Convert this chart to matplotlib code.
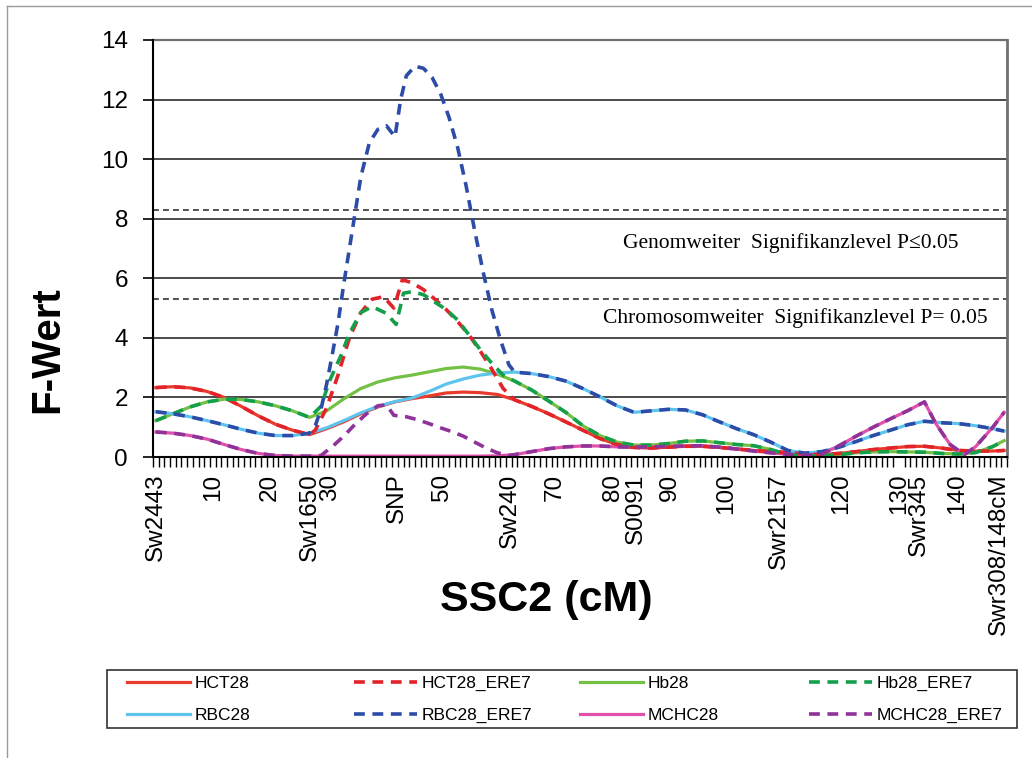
import matplotlib.pyplot as plt
from matplotlib.lines import Line2D
from matplotlib.patches import Rectangle

plt.rcParams['font.family'] = ['Liberation Sans', 'DejaVu Sans']

# Grundraster in cM
cm = [0, 3, 6, 9, 12, 15, 18, 21, 24, 27, 30, 33, 36, 39, 42, 45, 48, 51, 54, 57,
      60, 63, 66, 69, 72, 75, 78, 81, 84, 87, 90, 93, 96, 99, 102, 105, 108, 111,
      114, 117, 120, 123, 126, 129, 132, 135, 138, 141, 144, 147, 149]

hct28 = [2.33, 2.36, 2.32, 2.2, 2.0, 1.7, 1.38, 1.1, 0.9, 0.75,
         0.95, 1.18, 1.45, 1.68, 1.85, 1.96, 2.05, 2.15, 2.18, 2.16,
         2.1, 1.92, 1.7, 1.45, 1.18, 0.9, 0.62, 0.42, 0.32, 0.3,
         0.33, 0.36, 0.36, 0.32, 0.27, 0.22, 0.18, 0.15, 0.1, 0.08,
         0.12, 0.18, 0.25, 0.3, 0.35, 0.36, 0.3, 0.22, 0.2, 0.2, 0.22]

hb28 = [1.22, 1.45, 1.68, 1.85, 1.94, 1.93, 1.85, 1.72, 1.55, 1.33,
        1.55, 1.95, 2.3, 2.52, 2.66, 2.75, 2.86, 2.97, 3.02, 2.95,
        2.78, 2.55, 2.25, 1.88, 1.5, 1.05, 0.72, 0.5, 0.4, 0.4,
        0.45, 0.53, 0.54, 0.48, 0.42, 0.38, 0.25, 0.08, 0.03, 0.04,
        0.08, 0.14, 0.17, 0.18, 0.17, 0.16, 0.12, 0.1, 0.15, 0.35, 0.55]

rbc28 = [1.52, 1.45, 1.35, 1.22, 1.08, 0.93, 0.8, 0.72, 0.72, 0.8,
         0.98, 1.22, 1.48, 1.7, 1.86, 1.98, 2.2, 2.45, 2.62, 2.75,
         2.82, 2.85, 2.8, 2.7, 2.55, 2.3, 2.02, 1.72, 1.5, 1.55,
         1.6, 1.58, 1.42, 1.18, 0.95, 0.75, 0.5, 0.22, 0.13, 0.18,
         0.33, 0.52, 0.72, 0.9, 1.08, 1.2, 1.15, 1.12, 1.05, 0.95, 0.87]

# MCHC hat am Ende einen scharfen Knick -> eigenes Raster
cm_mchc = [0, 3, 6, 9, 12, 15, 18, 21, 24, 27, 30, 33, 36, 39, 42, 45, 48, 51, 54, 57,
           60, 63, 66, 69, 72, 75, 78, 81, 84, 87, 90, 93, 96, 99, 102, 105, 108, 111,
           114, 117, 120, 123, 126, 129, 132, 135, 137, 139.5, 142, 144, 147, 149]
mchc28 = [0.84, 0.8, 0.72, 0.6, 0.42, 0.25, 0.12, 0.05, 0.03, 0.03,
          0.03, 0.03, 0.03, 0.03, 0.03, 0.03, 0.03, 0.03, 0.03, 0.03,
          0.04, 0.08, 0.18, 0.28, 0.34, 0.37, 0.37, 0.34, 0.33, 0.34,
          0.36, 0.37, 0.38, 0.33, 0.27, 0.2, 0.14, 0.09, 0.06, 0.1,
          0.38, 0.7, 1.0, 1.28, 1.55, 1.85, 1.12, 0.42, 0.08, 0.35, 1.0, 1.5]

# ERE7-Kurven: nur im Bereich Sw1650 - Sw240 abweichend
hct_mid_cm = [28, 30, 32, 34, 36, 38, 40, 41.8, 43.3, 45, 47, 49, 51, 53, 55, 57, 59, 61, 63]
hct_mid = [0.9, 1.65, 2.75, 4.0, 4.85, 5.3, 5.38, 5.0, 5.95, 5.85, 5.62, 5.3, 4.95, 4.55,
           4.1, 3.55, 2.95, 2.3, 1.92]

hb_mid_cm = [29, 30.5, 32.5, 34, 36, 38, 40.5, 42.2, 43.5, 45, 47, 49, 51, 53, 55, 57, 59, 61, 63]
hb_mid = [1.7, 2.55, 3.4, 4.15, 4.85, 5.05, 4.82, 4.45, 5.5, 5.55, 5.45, 5.2, 4.95, 4.6,
          4.1, 3.6, 3.15, 2.75, 2.55]

rbc_mid_cm = [28, 29, 30, 31, 32, 33, 34.5, 36, 37.5, 39, 40.5, 42, 43, 44, 45.5, 47, 48.5,
              50, 51.5, 53, 54.5, 56, 57.5, 59, 60.5, 62, 63]
rbc_mid = [1.05, 1.6, 2.45, 3.45, 4.5, 5.8, 7.6, 9.4, 10.55, 11.0, 11.12, 10.75, 12.0, 12.8,
           13.12, 13.05, 12.75, 12.2, 11.4, 10.4, 9.1, 7.6, 6.2, 4.95, 3.95, 3.1, 2.85]

mchc_mid_cm = [29, 31, 33, 35, 37, 39, 40.5, 41.8, 44, 46, 48, 50, 52, 54, 56, 58, 60, 62, 63]
mchc_mid = [0.05, 0.35, 0.7, 1.1, 1.45, 1.72, 1.75, 1.4, 1.35, 1.25, 1.12, 0.98, 0.85, 0.7,
            0.5, 0.3, 0.14, 0.05, 0.08]

# Signifikanzschwellen
genom_level = 8.3
chrom_level = 5.3

tick_pos = [0, 10, 20, 27, 30.6, 42.4, 50.3, 62.2, 70, 80.3, 84.4, 90.2, 100.2, 109.5,
            120.3, 130.5, 134, 140.7, 148]
tick_lab = ['Sw2443', '10', '20', 'Sw1650', '30', 'SNP', '50', 'Sw240', '70', '80', 'S0091',
            '90', '100', 'Swr2157', '120', '130', 'Swr345', '140', 'Swr308/148cM']

# Kurven zusammensetzen (ausserhalb der Region identisch)
hct28_ere7_cm = cm[:10] + hct_mid_cm + cm[22:]
hct28_ere7 = hct28[:10] + hct_mid + hct28[22:]
hb28_ere7_cm = cm[:10] + hb_mid_cm + cm[22:]
hb28_ere7 = hb28[:10] + hb_mid + hb28[22:]
rbc28_ere7_cm = cm[:10] + rbc_mid_cm + cm[22:]
rbc28_ere7 = rbc28[:10] + rbc_mid + rbc28[22:]
mchc28_ere7_cm = cm_mchc[:10] + mchc_mid_cm + cm_mchc[22:]
mchc28_ere7 = mchc28[:10] + mchc_mid + mchc28[22:]

W, H = 1032, 758
fig = plt.figure(figsize=(W / 100, H / 100), dpi=100)
ax = fig.add_axes([153 / W, 1 - 457 / H, 854 / W, 417 / H])

# Gitter + Schwellen
for yv in range(2, 15, 2):
    ax.axhline(yv, color='#3c3c3c', lw=1.3, zorder=1)
ax.axhline(genom_level, color='#333333', lw=1.2, ls=(0, (3.5, 2.5)), zorder=1)
ax.axhline(chrom_level, color='#333333', lw=1.2, ls=(0, (3.5, 2.5)), zorder=1)

solid = [(cm, hct28, '#EA3A2C', 'HCT28'),
         (cm, hb28, '#74C044', 'Hb28'),
         (cm, rbc28, '#5EC4EE', 'RBC28'),
         (cm_mchc, mchc28, '#E04FAA', 'MCHC28')]
dashed = [(hct28_ere7_cm, hct28_ere7, '#E2232A', 'HCT28_ERE7'),
          (hb28_ere7_cm, hb28_ere7, '#14A04A', 'Hb28_ERE7'),
          (rbc28_ere7_cm, rbc28_ere7, '#2D4CA8', 'RBC28_ERE7'),
          (mchc28_ere7_cm, mchc28_ere7, '#8F3399', 'MCHC28_ERE7')]

handles = {}
for xs, ys, col, name in solid:
    handles[name], = ax.plot(xs, ys, color=col, lw=2.3, zorder=3, clip_on=False)
for xs, ys, col, name in dashed:
    handles[name], = ax.plot(xs, ys, color=col, lw=2.6, ls=(0, (3.0, 2.1)), zorder=4,
                             clip_on=False)

ax.set_xlim(-0.5, 149.5)
ax.set_ylim(0, 14)
ax.set_yticks(range(0, 15, 2))
ax.tick_params(axis='y', direction='out', length=7, width=1.2, pad=11, labelsize=17.5)
ax.set_xticks(tick_pos)
ax.set_xticklabels(tick_lab, rotation=90, fontsize=17.5)
ax.set_xticks([i - 0.5 for i in range(151)], minor=True)
ax.tick_params(axis='x', which='major', length=0, pad=12)
ax.tick_params(axis='x', which='minor', direction='out', length=7, width=1.0)

for s in ['left', 'bottom']:
    ax.spines[s].set_color('black')
    ax.spines[s].set_linewidth(1.5)
    ax.spines[s].set_zorder(5)
ax.spines['top'].set_color('#707070')
ax.spines['top'].set_linewidth(1.6)
ax.spines['right'].set_color('#707070')
ax.spines['right'].set_linewidth(2.0)

serif = ['Liberation Serif', 'DejaVu Serif']
ax.text(82, 7.19, 'Genomweiter  Signifikanzlevel P\u22640.05', family=serif,
        fontsize=15.5, va='center', ha='left')
ax.text(78.6, 4.67, 'Chromosomweiter  Signifikanzlevel P= 0.05', family=serif,
        fontsize=15.5, va='center', ha='left')

fig.text(47 / W, 1 - 350 / H, 'F-Wert', rotation=90, fontsize=29, fontweight='bold',
         ha='center', va='center')
fig.text(546 / W, 1 - 600 / H, 'SSC2 (cM)', fontsize=31, fontweight='bold',
         ha='center', va='center')

# Legende: 4 Spalten gleichmaessig verteilt
cols = [['HCT28', 'RBC28'], ['HCT28_ERE7', 'RBC28_ERE7'],
        ['Hb28', 'MCHC28'], ['Hb28_ERE7', 'MCHC28_ERE7']]
col_x = [127, 354, 580, 809]
for names, px in zip(cols, col_x):
    fig.legend([handles[n] for n in names], names, loc='upper left',
               bbox_to_anchor=(px / W, 1 - 676 / H), frameon=False, fontsize=12.5,
               borderpad=0, borderaxespad=0, handlelength=3.6, handletextpad=0.3,
               labelspacing=0.95)
fig.add_artist(Rectangle((107 / W, 1 - 728 / H), 910 / W, 58 / H, transform=fig.transFigure,
                         fill=False, edgecolor='#333333', lw=1.2))

# Rahmen der Grafik
fig.add_artist(Line2D([7 / W, 1], [1 - 6 / H, 1 - 6 / H], transform=fig.transFigure,
                      color='#9a9a9a', lw=1.0))
fig.add_artist(Line2D([7 / W, 7 / W], [0, 1 - 6 / H], transform=fig.transFigure,
                      color='#9a9a9a', lw=1.0))

fig.savefig('out.png', dpi=100, facecolor='white')
